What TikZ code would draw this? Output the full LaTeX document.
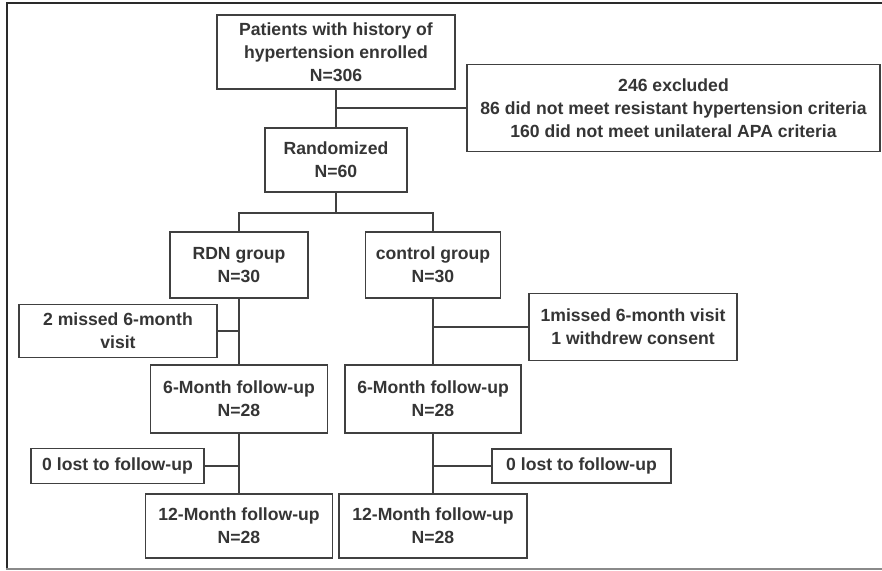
\documentclass[tikz,border=0pt]{standalone}
\usepackage{fontspec}
\setmainfont{Liberation Sans}
\definecolor{txt}{HTML}{353535}
\definecolor{ln}{HTML}{404040}
\definecolor{frm}{HTML}{2A2A2A}
\definecolor{frmb}{HTML}{8A8A8A}
\begin{document}
\begin{tikzpicture}[x=1pt,y=-1pt,
  box/.style={draw=ln, line width=1.6pt, fill=white, inner sep=0pt, align=center,
    text=txt, font=\fontsize{17.6}{23}\selectfont\bfseries},
  conn/.style={draw=ln, line width=1.6pt}]
\useasboundingbox (0,0) rectangle (882,570);
% frame
\draw[frm, line width=2.6pt] (882,3) -- (7,3) -- (7,570);
\draw[frmb, line width=1.4pt] (6,569) -- (882,569);
% nodes
\node[box, minimum width=238pt, minimum height=74pt] (enroll) at (336,52)
  {Patients with history of\\hypertension enrolled\\N=306};
\node[box, minimum width=413pt, minimum height=87pt] (excl) at (673.5,108)
  {246 excluded\\86 did not meet resistant hypertension criteria\\160 did not meet unilateral APA criteria};
\node[box, minimum width=142pt, minimum height=64pt] (rand) at (336,160)
  {Randomized\\N=60};
\node[box, minimum width=138pt, minimum height=66pt] (rdn) at (239,265)
  {RDN group\\N=30};
\node[box, minimum width=135pt, minimum height=66pt] (ctrl) at (433,265)
  {control group\\N=30};
\node[box, minimum width=198pt, minimum height=53pt] (miss1) at (118,331)
  {2 missed 6-month\\visit};
\node[box, minimum width=208pt, minimum height=67pt] (miss2) at (633,327)
  {1missed 6-month visit\\1 withdrew consent};
\node[box, minimum width=177pt, minimum height=68pt] (rdn6) at (239,399)
  {6-Month follow-up\\N=28};
\node[box, minimum width=176pt, minimum height=68pt] (ctrl6) at (433,399)
  {6-Month follow-up\\N=28};
\node[box, minimum width=173pt, minimum height=35pt] (lost1) at (117.5,466)
  {0 lost to follow-up};
\node[box, minimum width=179pt, minimum height=34pt] (lost2) at (581.5,466)
  {0 lost to follow-up};
\node[box, minimum width=187pt, minimum height=64pt] (rdn12) at (239,526)
  {12-Month follow-up\\N=28};
\node[box, minimum width=188pt, minimum height=64pt] (ctrl12) at (433,526)
  {12-Month follow-up\\N=28};
% connectors
\coordinate (split) at (336,213);
\draw[conn] (enroll.south) -- (rand.north);
\draw[conn] (excl.west) -- (excl.west -| enroll.south);
\draw[conn] (rand.south) -- (split);
\draw[conn] (rdn.north) |- (split) -| (ctrl.north);
\draw[conn] (rdn.south) -- (rdn6.north);
\draw[conn] (miss1.east) -- (miss1.east -| rdn.south);
\draw[conn] (ctrl.south) -- (ctrl6.north);
\draw[conn] (miss2.west) -- (miss2.west -| ctrl.south);
\draw[conn] (rdn6.south) -- (rdn12.north);
\draw[conn] (lost1.east) -- (lost1.east -| rdn6.south);
\draw[conn] (ctrl6.south) -- (ctrl12.north);
\draw[conn] (lost2.west) -- (lost2.west -| ctrl6.south);
\end{tikzpicture}
\end{document}
